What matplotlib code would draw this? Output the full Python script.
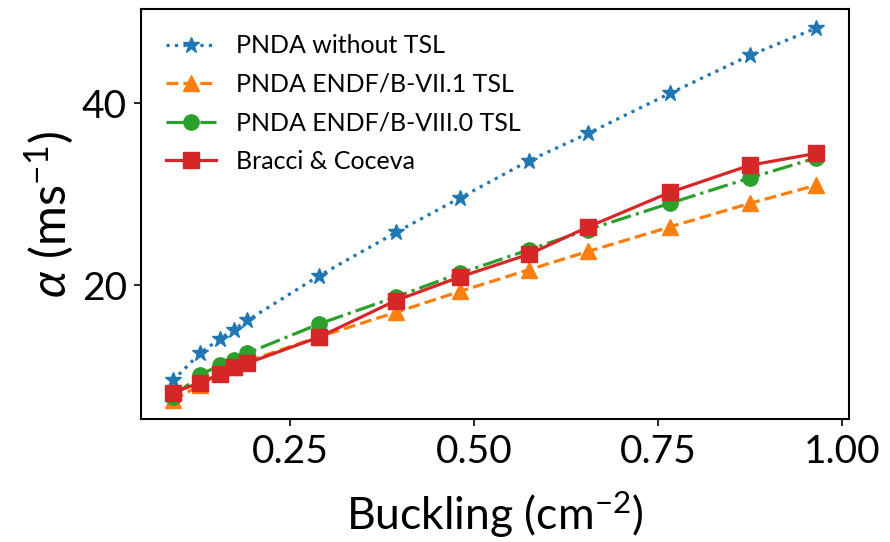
import matplotlib
matplotlib.use("Agg")
import matplotlib.pyplot as plt
from matplotlib.ticker import MultipleLocator

buckling = [0.091, 0.128, 0.155, 0.174, 0.192, 0.289, 0.394, 0.481, 0.575, 0.655, 0.766, 0.875, 0.965]
no_tsl = [9.5, 12.5, 14.1, 15.1, 16.1, 21.0, 25.8, 29.6, 33.7, 36.7, 41.1, 45.3, 48.3]
endf71 = [7.3, 9.0, 10.3, 11.0, 11.6, 14.3, 17.0, 19.3, 21.7, 23.7, 26.4, 29.0, 31.0]
endf80 = [7.7, 10.1, 11.2, 11.75, 12.5, 15.7, 18.7, 21.3, 23.9, 26.1, 29.0, 31.8, 34.0]
bracci = [8.15, 9.25, 10.2, 11.0, 11.4, 14.25, 18.3, 20.9, 23.4, 26.4, 30.2, 33.2, 34.5]

labels = ["PNDA without TSL", "PNDA ENDF/B-VII.1 TSL", "PNDA ENDF/B-VIII.0 TSL", "Bracci & Coceva"]

plt.rcParams['font.family'] = ['Lato', 'DejaVu Sans']
plt.rcParams['mathtext.fontset'] = 'custom'
plt.rcParams['mathtext.rm'] = 'Lato'
plt.rcParams['mathtext.it'] = 'Lato:italic'
plt.rcParams['mathtext.bf'] = 'Lato:bold'

fig = plt.figure(figsize=(8.9, 5.42), dpi=100)
ax = fig.add_axes([0.1584, 0.2269, 0.7950, 0.7556])

ax.plot(buckling, no_tsl, linestyle=':', marker='*', color='#1f77b4', lw=2.3, ms=12, label=labels[0])
ax.plot(buckling, endf71, linestyle='--', marker='^', color='#ff7f0e', lw=2.3, ms=11, label=labels[1])
ax.plot(buckling, endf80, linestyle='-.', marker='o', color='#2ca02c', lw=2.3, ms=11, label=labels[2])
ax.plot(buckling, bracci, linestyle='-', marker='s', color='#d62728', lw=2.3, ms=11, label=labels[3])

ax.yaxis.set_major_locator(MultipleLocator(20))
ax.xaxis.set_major_locator(MultipleLocator(0.25))
ax.set_xlim(0.0476, 1.009)
ax.set_ylim(5.25, 50.35)

ax.tick_params(axis='both', labelsize=28, length=5, width=1.2)
ax.tick_params(axis='x', pad=6)
ax.tick_params(axis='y', pad=5)
for s in ax.spines.values():
    s.set_linewidth(1.5)

ax.set_xlabel('Buckling (cm$^{-2}$)', fontsize=32, labelpad=14)
ax.set_ylabel(r'$\alpha$ (ms$^{-1}$)', fontsize=35, labelpad=4)

ax.legend(loc='upper left', fontsize=18, frameon=False, handlelength=2.0,
          borderaxespad=0.6, labelspacing=0.62, handletextpad=0.8)

fig.savefig('out.png', dpi=100)
